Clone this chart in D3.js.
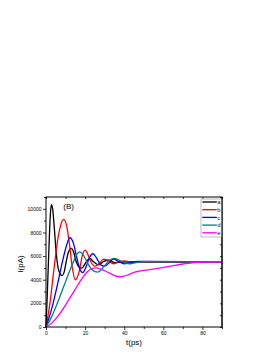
<!DOCTYPE html>
<html><head><meta charset="utf-8">
<script src="https://cdn.jsdelivr.net/npm/d3@7"></script>
<style>body{margin:0;background:#fff}svg{display:block}text{font-family:"Liberation Sans",Arial,sans-serif}</style>
</head><body><svg id="c" width="277" height="358"></svg>
<script>
// ---- data ----
const seriesNames = ["a", "b", "c", "d", "e"];
const seriesColors = ["#000000", "#ff0000", "#0000ff", "#008080", "#ff00ff"];
const tA = [0, 0.6, 1.2, 1.8, 2.3, 2.8, 3.4, 4.2, 5.2, 6.2, 7.2, 8.2, 9.2, 10.3, 11.5, 13.0, 14.2, 15.5, 17.0, 18.3, 20.0, 22.3, 24.5, 27.0, 29.5, 32.0, 35.0, 38.0, 90];
const vA = [0, 2500, 5300, 8000, 9700, 10360, 10000, 8500, 6300, 5000, 4500, 4350, 4600, 5500, 6350, 6650, 6300, 5500, 5050, 4980, 5350, 5800, 5500, 5250, 5550, 5650, 5450, 5500, 5500];
const tB = [0, 2, 4, 6, 7.5, 9, 10.5, 12, 13.3, 15, 17, 18.5, 20, 21.5, 23, 25, 27, 29.5, 32, 34.5, 37, 40, 43, 90];
const vB = [0, 2000, 4800, 7400, 8600, 9100, 8600, 7000, 5200, 4000, 4700, 6000, 6500, 6100, 5500, 5150, 5350, 5750, 5600, 5350, 5500, 5600, 5500, 5500];
const tC = [0, 3, 6, 8.5, 10.5, 12.2, 14, 15.7, 17.3, 18.8, 20.5, 22.3, 24, 25.8, 28, 30, 32, 34.5, 37, 40, 43, 47, 90];
const vC = [0, 1600, 3700, 5600, 6900, 7550, 7100, 5900, 4900, 4600, 5100, 5900, 6200, 5850, 5250, 5150, 5400, 5750, 5550, 5350, 5450, 5550, 5500];
const tD = [0, 3, 6, 9, 12, 14.5, 16, 17.3, 19, 21, 23, 25, 26.5, 28, 30, 32.5, 35, 37.5, 40, 43, 46, 50, 90];
const vD = [0, 900, 2100, 3400, 4700, 5700, 6200, 6350, 6100, 5500, 4950, 4680, 4650, 4800, 5200, 5650, 5800, 5650, 5450, 5350, 5450, 5520, 5500];
const tE = [0, 3, 6, 9, 12, 15, 18, 21, 23.5, 25.5, 28, 32, 35, 38, 42, 45, 48, 53, 60, 63, 70, 77, 80, 90];
const vE = [0, 350, 900, 1600, 2400, 3200, 4000, 4650, 4950, 5000, 4900, 4600, 4350, 4250, 4420, 4620, 4740, 4850, 5050, 5130, 5330, 5480, 5500, 5500];
const xTicks = [0, 20, 40, 60, 80];
const xMinor = [10, 30, 50, 70, 90];
const yTicks = [0, 2000, 4000, 6000, 8000, 10000];
const yMinor = [1000, 3000, 5000, 7000, 9000, 11000];

const times = [tA, tB, tC, tD, tE];
const vals = [vA, vB, vC, vD, vE];

const svg = d3.select("#c");
const L = 46, R = 222, T = 197, B = 327;
const x = d3.scaleLinear().domain([0, 90]).range([L, R]);
const y = d3.scaleLinear().domain([0, 11000]).range([B, T]);

// axes
const fs = 5;
function styleAxis(g){ g.select(".domain").remove(); g.selectAll("line").attr("stroke","#000").attr("stroke-width",0.8); g.selectAll("text").attr("font-size",fs).attr("fill","#000"); }
svg.append("g").attr("transform",`translate(0,${B})`).call(d3.axisBottom(x).tickValues(xTicks).tickSize(3).tickPadding(1.5).tickFormat(d3.format("d"))).call(styleAxis);
svg.append("g").attr("transform",`translate(0,${B})`).call(d3.axisBottom(x).tickValues(xMinor).tickSize(2).tickFormat("")).call(styleAxis);
svg.append("g").attr("transform",`translate(0,${T})`).call(d3.axisBottom(x).tickValues(xTicks.concat(xMinor)).tickSize(2).tickFormat("")).call(styleAxis);
svg.append("g").attr("transform",`translate(${L},0)`).call(d3.axisLeft(y).tickValues(yTicks).tickSize(3).tickPadding(1.5).tickFormat(d3.format("d"))).call(styleAxis);
svg.append("g").attr("transform",`translate(${L},0)`).call(d3.axisLeft(y).tickValues(yMinor).tickSize(2).tickFormat("")).call(styleAxis);
svg.append("g").attr("transform",`translate(${R},0)`).call(d3.axisLeft(y).tickValues(yTicks.concat(yMinor)).tickSize(2).tickFormat("")).call(styleAxis);

// curves
const line = d3.line().x(d=>x(d[0])).y(d=>y(d[1])).curve(d3.curveMonotoneX);
seriesNames.forEach((n,i)=>{
  const pts = times[i].map((t,j)=>[t, vals[i][j]]);
  svg.append("path").datum(pts).attr("d",line).attr("fill","none")
    .attr("stroke",seriesColors[i]).attr("stroke-width",1.3).attr("stroke-linejoin","round");
});

// frame
svg.append("rect").attr("x",L).attr("y",T).attr("width",R-L).attr("height",B-T)
  .attr("fill","none").attr("stroke","#000").attr("stroke-width",1);

// legend
const lg = svg.append("g");
lg.append("rect").attr("x",201).attr("y",199).attr("width",21).attr("height",38)
  .attr("fill","#fff").attr("stroke","#aaa").attr("stroke-width",0.8);
seriesNames.forEach((n,i)=>{
  const yy = 202 + i*7.7;
  lg.append("line").attr("x1",202.3).attr("x2",216.8).attr("y1",yy).attr("y2",yy)
    .attr("stroke",seriesColors[i]).attr("stroke-width",1.3);
  lg.append("text").attr("x",217.2).attr("y",yy+2.1).attr("font-size",6).attr("fill","#222").text(n);
});
// frame right edge over legend
svg.append("line").attr("x1",R).attr("x2",R).attr("y1",T).attr("y2",B).attr("stroke","#000").attr("stroke-width",1);

// labels
svg.append("text").attr("x",63.3).attr("y",209).attr("font-size",8).text("(B)");
svg.append("text").attr("x",(L+R)/2).attr("y",345).attr("font-size",8).attr("text-anchor","middle").text("t(ps)");
svg.append("text").attr("transform","translate(23,264) rotate(-90)").attr("font-size",8).attr("text-anchor","middle").text("I(pA)");
</script></body></html>
